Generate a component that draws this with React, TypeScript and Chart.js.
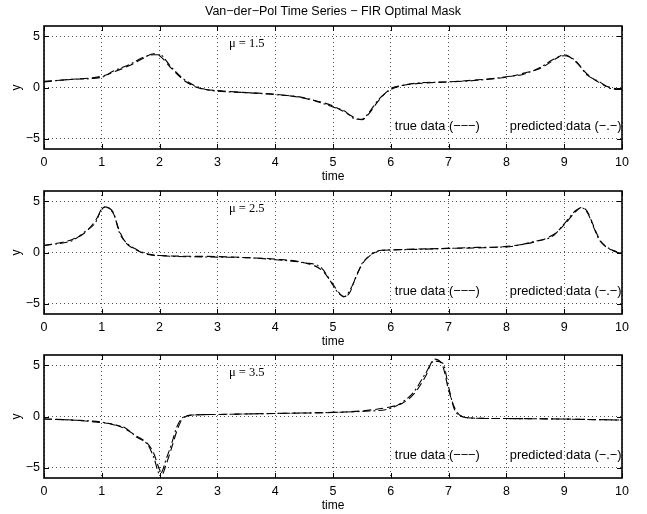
import React, { useEffect, useRef } from "react";
import { Chart, registerables } from "chart.js";

Chart.register(...registerables);

const TITLE = "Van\u2212der\u2212Pol Time Series \u2212 FIR Optimal Mask";
const X_TICKS = [0, 1, 2, 3, 4, 5, 6, 7, 8, 9, 10];
const Y_TICKS = [-5, 0, 5];
const MU_LABELS = ["\u03bc = 1.5", "\u03bc = 2.5", "\u03bc = 3.5"];
const TRUE_LABEL = "true data (\u2212\u2212\u2212)";
const PRED_LABEL = "predicted data (\u2212.\u2212)";

const t1 = [0, 0.5, 1, 1.2, 1.5, 1.7, 1.9, 2.0, 2.2, 2.4, 2.6, 2.8, 3, 3.5, 4, 4.5, 5, 5.2, 5.4, 5.5, 5.6, 5.8, 6, 6.2, 6.5, 7, 7.5, 8, 8.3, 8.6, 8.8, 9, 9.2, 9.4, 9.6, 9.8, 10];
const y1True = [0.6, 0.8, 1.1, 1.5, 2.2, 2.8, 3.3, 3.1, 1.9, 0.8, 0.1, -0.2, -0.3, -0.5, -0.65, -1.05, -1.8, -2.4, -3.0, -3.15, -2.7, -1.2, -0.1, 0.2, 0.4, 0.55, 0.75, 1.0, 1.4, 1.9, 2.6, 3.2, 2.5, 1.3, 0.5, 0.0, -0.2];
const y1Pred = [0.55, 0.8, 1.0, 1.6, 2.3, 2.9, 3.2, 3.2, 2.0, 0.9, 0.2, -0.2, -0.35, -0.5, -0.7, -1.0, -1.9, -2.3, -3.1, -3.1, -2.6, -1.1, -0.2, 0.2, 0.45, 0.55, 0.7, 1.05, 1.3, 2.0, 2.7, 3.1, 2.6, 1.2, 0.6, -0.1, -0.2];

const t2 = [0, 0.5, 0.7, 0.9, 1.0, 1.05, 1.2, 1.3, 1.4, 1.6, 1.8, 2, 3, 3.5, 4, 4.5, 4.8, 5.0, 5.1, 5.2, 5.3, 5.4, 5.5, 5.6, 5.8, 6, 7, 7.5, 8, 8.5, 8.8, 9.0, 9.2, 9.3, 9.4, 9.5, 9.6, 9.7, 9.9, 10];
const y2True = [0.65, 1.3, 1.9, 3.2, 4.2, 4.45, 3.8, 2.2, 1.05, 0.25, -0.2, -0.3, -0.4, -0.5, -0.65, -1.0, -1.7, -3.1, -3.9, -4.35, -3.8, -2.3, -1.2, -0.45, 0.15, 0.25, 0.4, 0.45, 0.6, 1.05, 1.7, 2.7, 4.0, 4.4, 4.0, 2.7, 1.4, 0.65, 0.1, -0.05];
const y2Pred = [0.7, 1.2, 2.0, 3.0, 4.3, 4.4, 3.9, 2.0, 1.1, 0.3, -0.15, -0.3, -0.45, -0.5, -0.7, -1.0, -1.5, -3.2, -4.0, -4.3, -3.6, -2.4, -1.1, -0.5, 0.2, 0.25, 0.4, 0.5, 0.55, 1.1, 1.6, 2.8, 4.1, 4.35, 3.9, 2.6, 1.3, 0.7, 0.05, -0.05];

const t3 = [0, 0.5, 1, 1.2, 1.4, 1.6, 1.8, 1.9, 2.0, 2.05, 2.1, 2.2, 2.3, 2.4, 2.6, 3, 4, 5, 5.5, 6, 6.2, 6.4, 6.6, 6.75, 6.9, 7.0, 7.1, 7.2, 7.4, 8, 9, 10];
const y3True = [-0.25, -0.35, -0.6, -0.75, -1.2, -1.9, -2.7, -3.6, -5.2, -5.6, -4.9, -3.2, -1.4, -0.2, 0.15, 0.2, 0.3, 0.4, 0.55, 0.95, 1.3, 2.2, 3.9, 5.6, 4.9, 2.6, 0.9, 0.1, -0.15, -0.2, -0.25, -0.35];
const y3Pred = [-0.25, -0.35, -0.55, -0.8, -1.1, -2.0, -2.8, -4.0, -5.6, -5.3, -4.4, -2.8, -1.0, -0.1, 0.15, 0.2, 0.3, 0.4, 0.5, 0.8, 1.4, 2.4, 4.2, 5.4, 5.2, 2.9, 0.7, 0.1, -0.15, -0.2, -0.25, -0.35];

const PANELS = [
  { t: t1, yt: y1True, yp: y1Pred, mu: MU_LABELS[0], title: true },
  { t: t2, yt: y2True, yp: y2Pred, mu: MU_LABELS[1], title: false },
  { t: t3, yt: y3True, yp: y3Pred, mu: MU_LABELS[2], title: false },
];

const PANEL_TOPS = [0, 165, 329];
const CANVAS_W = 647;
const CANVAS_H = 190;

const decorPlugin = {
  id: "panelDecor",
  afterDraw(chart: any, _args: any, opts: any) {
    const { ctx, chartArea } = chart;
    const xs = chart.scales.x;
    const ys = chart.scales.y;
    const { left, right, top, bottom } = chartArea;
    ctx.save();
    ctx.strokeStyle = "#000";
    ctx.lineWidth = 1;
    ctx.beginPath();
    const tl = 5;
    for (const v of X_TICKS) {
      const px = Math.round(xs.getPixelForValue(v)) + 0.5;
      ctx.moveTo(px, bottom);
      ctx.lineTo(px, bottom - tl);
      ctx.moveTo(px, top);
      ctx.lineTo(px, top + tl);
    }
    for (const v of Y_TICKS) {
      const py = Math.round(ys.getPixelForValue(v)) + 0.5;
      ctx.moveTo(left, py);
      ctx.lineTo(left + tl, py);
      ctx.moveTo(right, py);
      ctx.lineTo(right - tl, py);
    }
    ctx.stroke();
    ctx.lineWidth = 1.6;
    ctx.strokeRect(left, top, right - left, bottom - top);
    ctx.fillStyle = "#000";
    ctx.textBaseline = "middle";
    if (opts.title) {
      ctx.font = "12.5px 'Liberation Sans', Arial, sans-serif";
      ctx.textAlign = "center";
      ctx.fillText(TITLE, (left + right) / 2, 12);
    }
    ctx.font = "12px 'Liberation Sans', Arial, sans-serif";
    ctx.textAlign = "center";
    ctx.fillText("time", (left + right) / 2, 177);
    ctx.save();
    ctx.translate(17, (top + bottom) / 2);
    ctx.rotate(-Math.PI / 2);
    ctx.fillText("y", 0, 0);
    ctx.restore();
    ctx.font = "12.5px 'Liberation Serif', 'Times New Roman', serif";
    ctx.textAlign = "left";
    ctx.fillText(opts.mu, xs.getPixelForValue(3.2), ys.getPixelForValue(4.3));
    ctx.font = "12.8px 'Liberation Sans', Arial, sans-serif";
    ctx.fillText(TRUE_LABEL, xs.getPixelForValue(6.07), ys.getPixelForValue(-3.85));
    ctx.fillText(PRED_LABEL, xs.getPixelForValue(8.06), ys.getPixelForValue(-3.85));
    ctx.restore();
  },
};

function Panel({ idx }: { idx: number }) {
  const ref = useRef<HTMLCanvasElement | null>(null);
  useEffect(() => {
    const p = PANELS[idx];
    const chart = new Chart(ref.current as HTMLCanvasElement, {
      type: "line",
      data: {
        datasets: [
          {
            label: "true data",
            data: p.t.map((x, i) => ({ x, y: p.yt[i] })),
            borderColor: "#000",
            borderWidth: 1.1,
            borderDash: [8, 4],
            pointRadius: 0,
            fill: false,
            cubicInterpolationMode: "monotone",
          },
          {
            label: "predicted data",
            data: p.t.map((x, i) => ({ x, y: p.yp[i] })),
            borderColor: "#000",
            borderWidth: 1.1,
            borderDash: [8, 3, 2, 3],
            pointRadius: 0,
            fill: false,
            cubicInterpolationMode: "monotone",
          },
        ],
      },
      options: {
        animation: false,
        responsive: false,
        devicePixelRatio: 1,
        layout: { padding: { top: 26, right: 25, left: 0, bottom: 0 } },
        plugins: {
          legend: { display: false },
          tooltip: { enabled: false },
          panelDecor: { mu: p.mu, title: p.title },
        } as any,
        scales: {
          x: {
            type: "linear",
            min: 0,
            max: 10,
            afterBuildTicks: (s: any) => {
              s.ticks = X_TICKS.map((v) => ({ value: v }));
            },
            afterFit: (s: any) => {
              s.height = CANVAS_H - 149;
            },
            ticks: {
              autoSkip: false,
              maxRotation: 0,
              padding: 6,
              color: "#000",
              font: { family: "'Liberation Sans', Arial, sans-serif", size: 12.5 },
            },
            grid: {
              color: "rgba(0,0,0,0.7)",
              lineWidth: 1,
              drawTicks: false,
            },
            border: { display: false, dash: [1, 3] },
          },
          y: {
            type: "linear",
            min: -6,
            max: 6,
            afterBuildTicks: (s: any) => {
              s.ticks = Y_TICKS.map((v) => ({ value: v }));
            },
            afterFit: (s: any) => {
              s.width = 44;
            },
            ticks: {
              padding: 4,
              color: "#000",
              font: { family: "'Liberation Sans', Arial, sans-serif", size: 12.5 },
              callback: (v: any) => (Number(v) < 0 ? "\u2212" + Math.abs(Number(v)) : String(v)),
            },
            grid: {
              color: "rgba(0,0,0,0.7)",
              lineWidth: 1,
              drawTicks: false,
            },
            border: { display: false, dash: [1, 3] },
          },
        },
      },
      plugins: [decorPlugin],
    } as any);
    return () => chart.destroy();
  }, [idx]);
  return (
    <canvas
      ref={ref}
      width={CANVAS_W}
      height={CANVAS_H}
      style={{ position: "absolute", left: 0, top: PANEL_TOPS[idx], width: CANVAS_W, height: CANVAS_H }}
    />
  );
}

export default function App() {
  useEffect(() => {
    document.body.style.margin = "0";
  }, []);
  return (
    <div style={{ position: "relative", width: 647, height: 514, overflow: "hidden", background: "#fff" }}>
      {PANELS.map((_, i) => (
        <Panel key={i} idx={i} />
      ))}
    </div>
  );
}
